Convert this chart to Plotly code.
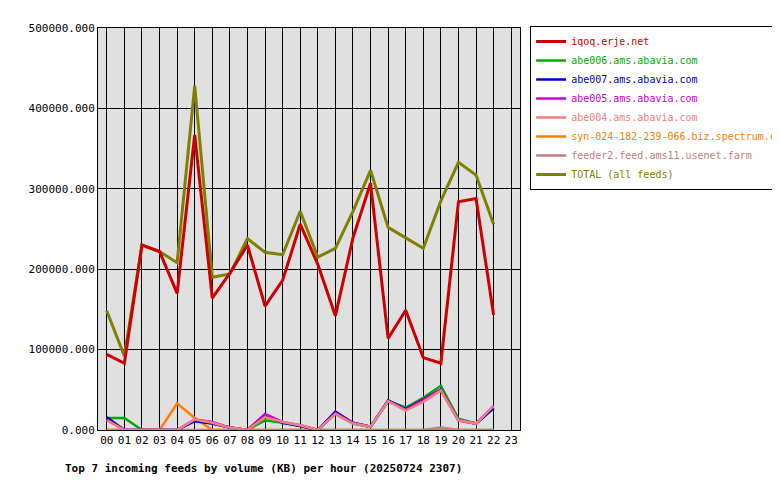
import plotly.graph_objects as go

hours = [f"{h:02d}" for h in range(24)]

iqoq = [94000, 83000, 230000, 222000, 170000, 367000, 164000, 195000, 230000, 154000, 186000, 256000,
        206000, 142000, 239000, 307000, 114000, 149000, 90000, 83000, 284000, 288000, 143000]
abe006 = [15000, 15000, 0, 0, 0, 12000, 8000, 3000, 0, 12000, 9000, 5000,
          0, 20000, 8000, 4000, 36000, 28000, 40000, 55000, 14000, 8000, 28000]
abe007 = [16000, 0, 0, 0, 0, 11000, 8000, 3000, 0, 18000, 9000, 5000,
          0, 23000, 9000, 4000, 37000, 26000, 38000, 50000, 12000, 8000, 27000]
abe005 = [13000, 0, 0, 0, 0, 13000, 10000, 3000, 0, 20000, 10000, 6000,
          0, 21000, 9000, 4000, 36000, 25000, 37000, 50000, 12000, 8000, 30000]
abe004 = [12000, 0, 0, 0, 0, 13000, 9000, 3000, 0, 16000, 10000, 6000,
          0, 20000, 8000, 4000, 36000, 24000, 35000, 49000, 12000, 8000, 30000]
spectrum = [0, 0, 0, 0, 33000, 15000, 0, 0, 0, 0, 0, 0,
            0, 0, 0, 0, 0, 0, 0, 0, 0, 0, 0]
feeder2 = [0, 0, 0, 0, 0, 0, 0, 0, 0, 0, 0, 0,
           0, 0, 0, 0, 0, 0, 0, 3000, 0, 0, 0]
total = [148000, 92000, 230000, 222000, 208000, 428000, 190000, 194000, 238000, 221000, 218000, 272000,
         215000, 226000, 272000, 323000, 252000, 239000, 226000, 285000, 333000, 317000, 256000]

series = [
    ("iqoq.erje.net", iqoq, "#cc0000"),
    ("abe006.ams.abavia.com", abe006, "#00aa00"),
    ("abe007.ams.abavia.com", abe007, "#0000cc"),
    ("abe005.ams.abavia.com", abe005, "#cc00cc"),
    ("abe004.ams.abavia.com", abe004, "#f08080"),
    ("syn-024-182-239-066.biz.spectrum.com", spectrum, "#ff8000"),
    ("feeder2.feed.ams11.usenet.farm", feeder2, "#c08080"),
    ("TOTAL (all feeds)", total, "#808000"),
]

# draw order: small feeds first, then total, red on top
draw_order = [6, 5, 1, 2, 3, 4, 7, 0]

fig = go.Figure()
for i in draw_order:
    name, vals, color = series[i]
    fig.add_trace(go.Scatter(
        x=hours[:len(vals)], y=vals, mode="lines",
        name=f'<span style="color:{color}">{name}</span>',
        line=dict(color=color, width=3 if i in (0, 7) else 2.5),
        legendrank=i + 1,
    ))

fig.update_layout(
    width=780, height=480,
    margin=dict(l=90, r=268, t=20, b=58, autoexpand=False),
    paper_bgcolor="white", plot_bgcolor="#e0e0e0",
    font=dict(family="DejaVu Sans Mono", size=11, color="black"),
    showlegend=True,
    legend=dict(x=1.024, y=1.005, xanchor="left", yanchor="top",
                bordercolor="black", borderwidth=1, bgcolor="white",
                itemwidth=30, tracegroupgap=0,
                font=dict(family="DejaVu Sans Mono", size=10)),
    xaxis=dict(type="category", categoryorder="array", categoryarray=hours,
               range=[-0.5, 23.5], showgrid=True, gridcolor="black", gridwidth=1,
               showline=True, linecolor="black", mirror=True, ticks="", tickfont=dict(size=11)),
    yaxis=dict(range=[0, 500000], dtick=100000, tickformat=".3f",
               showgrid=True, gridcolor="black", gridwidth=1, zeroline=False,
               showline=True, linecolor="black", mirror=True, ticks="", tickfont=dict(size=11)),
    annotations=[dict(text="<b>Top 7 incoming feeds by volume (KB) per hour (20250724 2307)</b>",
                      xref="paper", yref="paper", x=-0.083, y=-0.075, xanchor="left", yanchor="top",
                      showarrow=False, font=dict(size=11))],
)

fig.write_html("out.html")
